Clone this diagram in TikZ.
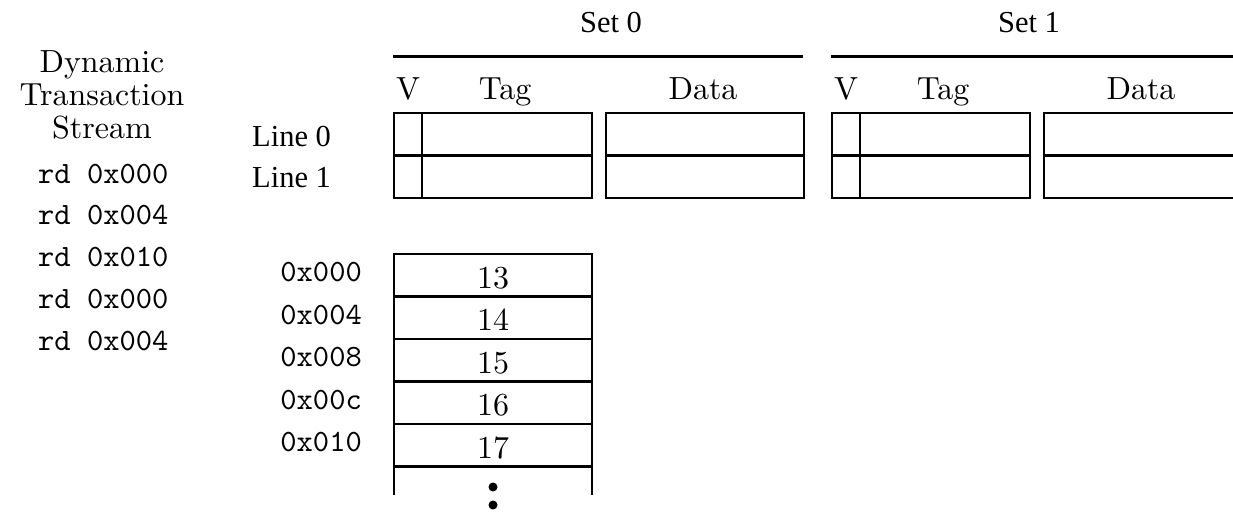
\documentclass[tikz,border=0pt]{standalone}
\usepackage{fontspec}
\setmainfont{lmroman10-regular.otf}
\setmonofont{lmmono10-regular.otf}
\newfontfamily\timesfont{Liberation Serif}
\tikzset{
  cell/.style={draw, line width=2.6pt, inner sep=0pt, outer sep=0pt, anchor=north west},
  rule/.style={line width=2.6pt},
  head/.style={font=\fontsize{32}{35}\selectfont, inner sep=0pt, anchor=base},
  tlabel/.style={font=\timesfont\fontsize{30.5}{33}\selectfont, inner sep=0pt, anchor=base},
  mono/.style={font=\ttfamily\fontsize{31}{33}\selectfont, inner sep=0pt},
  dot/.style={circle, fill, inner sep=0pt, minimum size=9pt}
}
\begin{document}
\begin{tikzpicture}[x=1pt, y=-1pt]
\useasboundingbox (0,0) rectangle (1233,513);
\clip (0,0) rectangle (1233,513);

% transaction stream
\node[head] (dts1) at (102,73)  {Dynamic};
\node[head] (dts2) at (102,106) {Transaction};
\node[head] (dts3) at (102,139) {Stream};
\foreach \k/\a in {0/000,1/004,2/010,3/000,4/004}
  \node[mono, anchor=base west] (rd\k) at (38,{183+41.8*\k}) {rd 0x\a};

% line labels
\node[tlabel, anchor=base west] (line0) at (252,147) {Line 0};
\node[tlabel, anchor=base west] (line1) at (252,187) {Line 1};

% set labels
\node[tlabel] (set0) at (611,33)  {Set 0};
\node[tlabel] (set1) at (1029,33) {Set 1};

% two cache sets: V bit, tag and data for two lines
\foreach \s/\o in {0/0,1/438} {
  \coordinate (bar\s a) at (393+\o,56.5);
  \coordinate (bar\s b) at (803+\o,56.5);
  \draw[rule] (bar\s a) -- (bar\s b);
  \node[head] (v\s)    at (408+\o,100) {V};
  \node[head] (tag\s)  at (505+\o,100) {Tag};
  \node[head] (data\s) at (703+\o,100) {Data};
  \foreach \l in {0,1} {
    \node[cell, minimum width=28pt,  minimum height=42.5pt] (c\s v\l)
      at (394+\o,{113+42.5*\l}) {};
    \node[cell, minimum width=170pt, minimum height=42.5pt] (c\s t\l)
      at (422+\o,{113+42.5*\l}) {};
    \node[cell, minimum width=198pt, minimum height=42.5pt] (c\s d\l)
      at (606+\o,{113+42.5*\l}) {};
  }
}

% memory
\foreach \i/\a/\v in {0/000/13,1/004/14,2/008/15,3/00c/16,4/010/17} {
  \node[cell, minimum width=198pt, minimum height=42.5pt] (mem\i)
    at (394,{254+42.5*\i}) {};
  \node[head] (val\i) at (493,{254+42.5*\i+34}) {\v};
  \node[mono, anchor=base east] (addr\i) at (362,{254+42.5*\i+27.5}) {0x\a};
}
\coordinate (memL) at (394,495);
\coordinate (memR) at (592,495);
\draw[rule] (mem4.south west) -- (memL);
\draw[rule] (mem4.south east) -- (memR);
\node[dot] (dotA) at (493,487) {};
\node[dot] (dotB) at (493,505) {};
\end{tikzpicture}
\end{document}
